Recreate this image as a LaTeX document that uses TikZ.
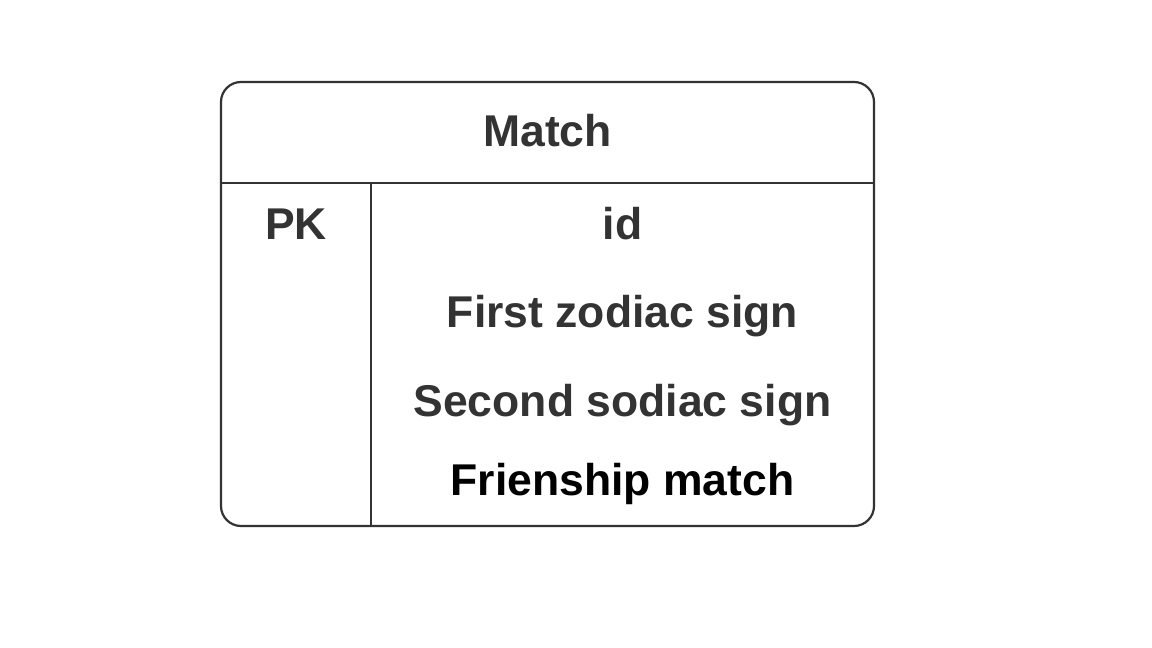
\documentclass[tikz,border=0pt]{standalone}
\usepackage{fontspec}
\setmainfont{Liberation Sans}
\definecolor{tabgray}{HTML}{333333}
\begin{document}
\begin{tikzpicture}[x=1pt, y=1pt, line width=2.2pt, tab line/.style={draw=tabgray}, field/.style={anchor=base,inner sep=0pt,text=tabgray,font=\fontsize{44.5}{52}\selectfont\bfseries}]%
\useasboundingbox (0,0) rectangle (1152,648);
\begin{scope}
\coordinate (hl) at (221,465);
\coordinate (hr) at (874,465);
\coordinate (vt) at (371,465);
\coordinate (vb) at (371,122);
\draw[tab line, rounded corners=20pt] (221,122) rectangle (874,566);
\draw[tab line] (hl) -- (hr);
\draw[tab line] (vt) -- (vb);
\end{scope}
\begin{scope}
\node[field] (title) at (547.5,501) {Match};
\node[field] (pk) at (296,408) {PK};
\node[field] (id) at (622.5,408) {id};
\node[field] (first) at (622.5,320) {First zodiac sign};
\node[field] (second) at (622.5,231) {Second sodiac sign};
\node[field, text=black] (friend) at (622.5,152) {Frienship match};
%\node[field] () at (,) {};
\end{scope}
\end{tikzpicture}
\end{document}
